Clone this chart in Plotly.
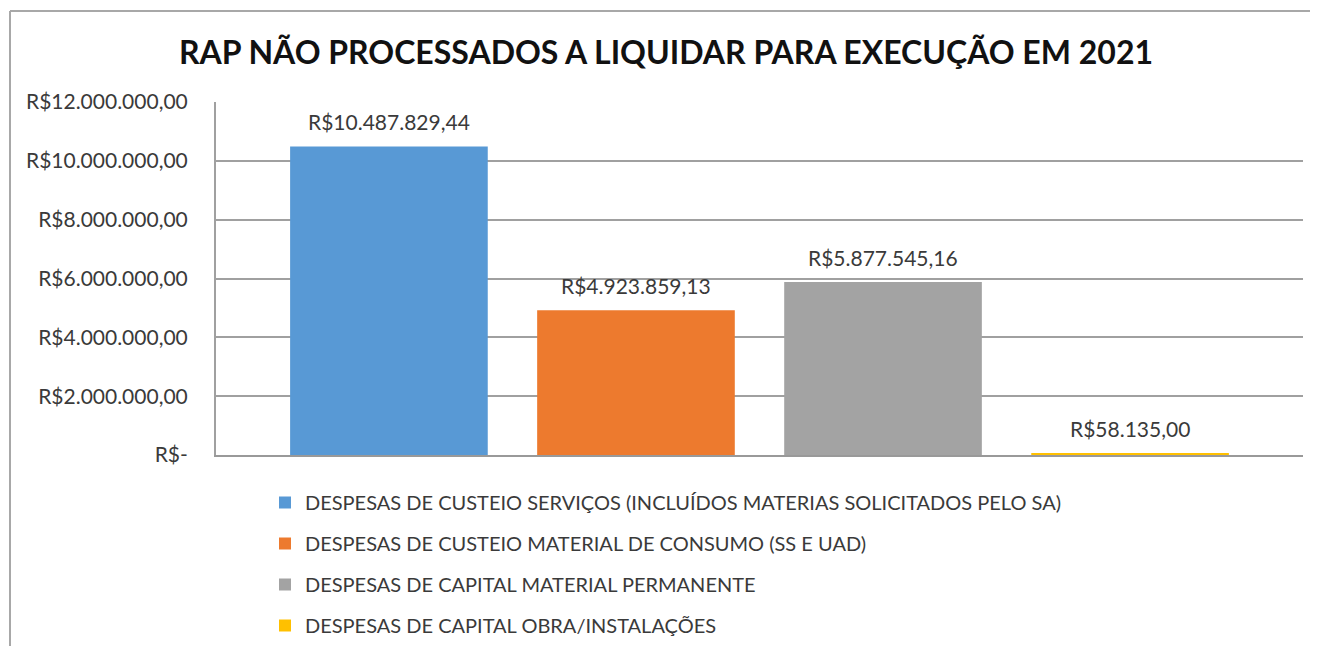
import plotly.graph_objects as go

title = "RAP NÃO PROCESSADOS A LIQUIDAR PARA EXECUÇÃO EM 2021"
series_names = [
    "DESPESAS DE CUSTEIO SERVIÇOS (INCLUÍDOS MATERIAS SOLICITADOS PELO SA)",
    "DESPESAS DE CUSTEIO MATERIAL DE CONSUMO (SS E UAD)",
    "DESPESAS DE CAPITAL MATERIAL PERMANENTE",
    "DESPESAS DE CAPITAL OBRA/INSTALAÇÕES",
]
values = [10487829.44, 4923859.13, 5877545.16, 58135.00]
value_labels = ["R$10.487.829,44", "R$4.923.859,13", "R$5.877.545,16", "R$58.135,00"]
colors = ["#5899D5", "#ED7A2E", "#A3A3A3", "#FFC000"]
tick_vals = [0, 2000000, 4000000, 6000000, 8000000, 10000000, 12000000]
tick_text = ["R$-", "R$2.000.000,00", "R$4.000.000,00", "R$6.000.000,00",
             "R$8.000.000,00", "R$10.000.000,00", "R$12.000.000,00"]

FONT = "Lato"
TXT = "#3a3a3a"
OFF = 8  # default page body margin

W, H = 1319 - 2 * OFF, 654 - 2 * OFF
ml, mt = 216 - OFF, 102 - OFF
pr, pb = 1303 - OFF, 455 - OFF
mr, mb = W - pr, H - pb
pw, ph = W - ml - mr, H - mt - mb

fig = go.Figure()
for i, (name, v, c) in enumerate(zip(series_names, values, colors)):
    fig.add_trace(go.Bar(
        x=[i], y=[v], name=name, width=0.8,
        marker=dict(color=c, line=dict(width=0)),
        legendgroup=f"g{i}",
    ))
    fig.add_annotation(x=i, y=v, text=value_labels[i], showarrow=False,
                       yanchor="middle", yshift=25,
                       font=dict(family=FONT, size=21, color=TXT))

def px_x(page_x):
    return (page_x - OFF - ml) / pw

def px_y(page_y):
    return (455 - page_y) / ph

fig.update_layout(
    width=W, height=H,
    margin=dict(l=ml, r=mr, t=mt, b=mb, autoexpand=False),
    paper_bgcolor="white", plot_bgcolor="white",
    barmode="overlay",
    showlegend=True,
    title=dict(text="<b>" + title + "</b>", x=(666 - OFF) / W, xanchor="center",
               y=1 - (53 - OFF) / H, yanchor="middle",
               font=dict(family=FONT, size=32, color="#111111")),
    legend=dict(orientation="v", x=px_x(265), xanchor="left",
                y=px_y(483), yanchor="top",
                font=dict(family=FONT, size=20, color=TXT),
                tracegroupgap=12, itemwidth=30,
                bgcolor="rgba(0,0,0,0)"),
    xaxis=dict(range=[-0.7, 3.7], showticklabels=False, showgrid=False,
               zeroline=False, showline=True, linecolor="#999999", linewidth=2),
    yaxis=dict(range=[0, 12000000], tickvals=tick_vals, ticktext=tick_text,
               showgrid=True, gridcolor="#a0a0a0", gridwidth=1.5,
               zeroline=False, showline=True, linecolor="#a0a0a0", linewidth=2,
               ticks="", ticklabelstandoff=22,
               tickfont=dict(family=FONT, size=21, color=TXT)),
    shapes=[
        dict(type="line", xref="paper", yref="paper",
             x0=px_x(10), x1=px_x(10), y0=px_y(646), y1=px_y(11),
             line=dict(color="#a8a8a8", width=2), layer="below"),
        dict(type="line", xref="paper", yref="paper",
             x0=px_x(10), x1=px_x(1310), y0=px_y(11), y1=px_y(11),
             line=dict(color="#a8a8a8", width=2), layer="below"),
    ],
)

fig.write_html("out.html")
